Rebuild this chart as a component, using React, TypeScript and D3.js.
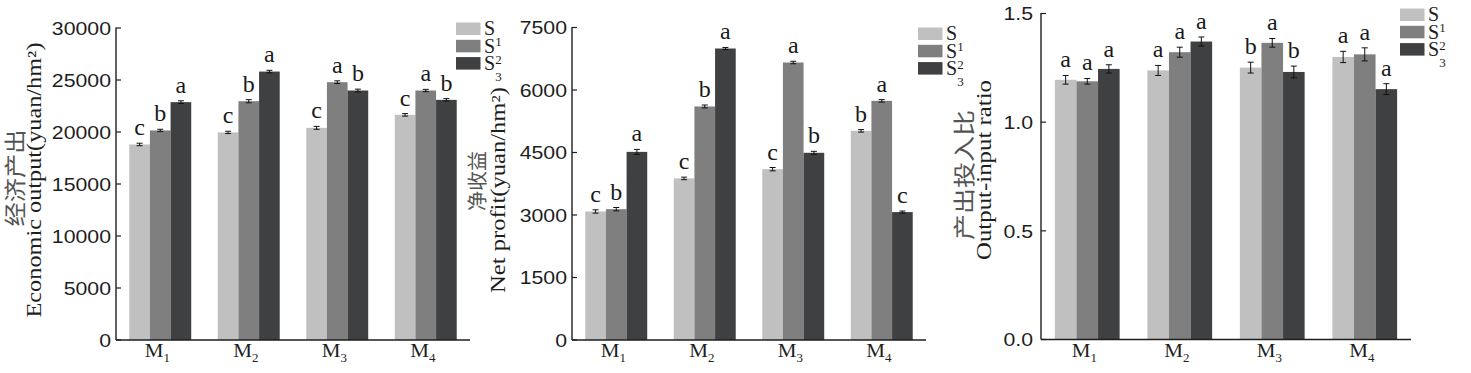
import React from "react";
import * as d3 from "d3";

const categories = ["M1", "M2", "M3", "M4"];
const seriesNames = ["S1", "S2", "S3"];
const seriesColors = ["#c0c0c0", "#7f7f7f", "#3e4041"];

// Panel 1: Economic output
const outputS1 = [18800, 19960, 20400, 21650];
const outputS2 = [20150, 22960, 24790, 23990];
const outputS3 = [22870, 25810, 23990, 23090];
const outputErrS1 = [120, 110, 140, 120];
const outputErrS2 = [110, 150, 130, 110];
const outputErrS3 = [130, 120, 130, 120];
const outputLetters = [["c", "b", "a"], ["c", "b", "a"], ["c", "a", "b"], ["c", "a", "b"]];
const outputTicks = [0, 5000, 10000, 15000, 20000, 25000, 30000];

// Panel 2: Net profit
const profitS1 = [3085, 3878, 4100, 5020];
const profitS2 = [3140, 5605, 6660, 5740];
const profitS3 = [4515, 6996, 4493, 3070];
const profitErrS1 = [40, 30, 40, 30];
const profitErrS2 = [40, 35, 30, 30];
const profitErrS3 = [60, 25, 35, 25];
const profitLetters = [["c", "b", "a"], ["c", "b", "a"], ["c", "a", "b"], ["b", "a", "c"]];
const profitTicks = [0, 1500, 3000, 4500, 6000, 7500];

// Panel 3: Output-input ratio
const ratioS1 = [1.195, 1.238, 1.251, 1.3];
const ratioS2 = [1.188, 1.322, 1.365, 1.312];
const ratioS3 = [1.245, 1.371, 1.231, 1.152];
const ratioErrS1 = [0.02, 0.023, 0.025, 0.026];
const ratioErrS2 = [0.013, 0.023, 0.02, 0.03];
const ratioErrS3 = [0.019, 0.021, 0.027, 0.025];
const ratioLetters = [["a", "a", "a"], ["a", "a", "a"], ["b", "a", "b"], ["a", "a", "a"]];
const ratioTicks = [0, 0.5, 1.0, 1.5];

const SERIF = "'Liberation Serif', 'Times New Roman', serif";
const SANS = "'Liberation Sans', Arial, sans-serif";
const CJK = "'Noto Sans CJK SC', sans-serif";

const panels = [
  {
    x0: 116, x1: 470, yTop: 28, yBot: 340, max: 30000,
    ticks: outputTicks, fmt: (d: number) => String(d),
    values: [outputS1, outputS2, outputS3],
    errs: [outputErrS1, outputErrS2, outputErrS3],
    letters: outputLetters,
    cn: "经济产出", en: "Economic output(yuan/hm²)",
    cnX: 13, cnY: 178, cnSize: 22, cnLen: 97,
    enX: 41, enY: 180, enLen: 275,
    legX: 456, legY: 22.5, tickGap: 5,
  },
  {
    x0: 572, x1: 926, yTop: 27.5, yBot: 340, max: 7500,
    ticks: profitTicks, fmt: (d: number) => String(d),
    values: [profitS1, profitS2, profitS3],
    errs: [profitErrS1, profitErrS2, profitErrS3],
    letters: profitLetters,
    cn: "净收益", en: "Net profit(yuan/hm²)",
    cnX: 476.5, cnY: 181, cnSize: 20, cnLen: 60,
    enX: 505, enY: 190, enLen: 206,
    legX: 918, legY: 27.5, tickGap: 5,
  },
  {
    x0: 1041, x1: 1411, yTop: 13.5, yBot: 339.5, max: 1.5,
    ticks: ratioTicks, fmt: (d: number) => d3.format(".1f")(d),
    values: [ratioS1, ratioS2, ratioS3],
    errs: [ratioErrS1, ratioErrS2, ratioErrS3],
    letters: ratioLetters,
    cn: "产出投入比", en: "Output-input ratio",
    cnX: 962, cnY: 175, cnSize: 22, cnLen: 130,
    enX: 991, enY: 170, enLen: 180,
    legX: 1400, legY: 8.5, tickGap: 8,
  },
];

function SText({ x, y, sx = 1, children, ...rest }: any) {
  return (
    <g transform={`translate(${x},${y}) scale(${sx},1)`}>
      <text {...rest}>{children}</text>
    </g>
  );
}

function Panel({ p }: { p: any }) {
  const x = d3.scaleBand<string>().domain(categories).range([p.x0, p.x1]).paddingInner(0.3).paddingOuter(0.15);
  const xs = d3.scaleBand<string>().domain(seriesNames).range([0, x.bandwidth()]);
  const y = d3.scaleLinear().domain([0, p.max]).range([p.yBot, p.yTop]);
  const axisColor = "#1e1e1e";
  return (
    <g>
      {categories.map((c, ci) =>
        seriesNames.map((s, si) => {
          const v = p.values[si][ci];
          const e = p.errs[si][ci];
          const bx = (x(c) as number) + (xs(s) as number);
          const bw = xs.bandwidth();
          const cx = bx + bw / 2;
          const yHi = y(v + e);
          const yLo = y(v - e);
          return (
            <g key={c + s}>
              <rect x={bx} y={y(v)} width={bw} height={p.yBot - y(v)} fill={seriesColors[si]} />
              <line x1={cx} x2={cx} y1={yHi} y2={yLo} stroke="#111" strokeWidth={1} />
              <line x1={cx - 3} x2={cx + 3} y1={yHi} y2={yHi} stroke="#111" strokeWidth={1} />
              <line x1={cx - 3} x2={cx + 3} y1={yLo} y2={yLo} stroke="#111" strokeWidth={1} />
              <text x={cx} y={yHi - 8} textAnchor="middle" fontFamily={SERIF} fontSize={24} fill="#1a1a1a">
                {p.letters[ci][si]}
              </text>
            </g>
          );
        })
      )}
      <line x1={p.x0} x2={p.x0} y1={p.yTop - 0.5} y2={p.yBot} stroke={axisColor} strokeWidth={1.4} />
      <line x1={p.x0} x2={p.x1} y1={p.yBot} y2={p.yBot} stroke={axisColor} strokeWidth={1.4} />
      {p.ticks.map((t: number) => (
        <g key={t}>
          <line x1={p.x0} x2={p.x0 + 5} y1={y(t)} y2={y(t)} stroke={axisColor} strokeWidth={1.2} />
          <SText x={p.x0 - p.tickGap} y={y(t) + 6.8} sx={1.12} textAnchor="end" fontFamily={SANS} fontSize={19} fill="#1e1e1e">
            {p.fmt(t)}
          </SText>
        </g>
      ))}
      {categories.map((c) => (
        <SText key={c} x={(x(c) as number) + x.bandwidth() / 2 - 3} y={357} sx={1.08} textAnchor="middle" fontFamily={SERIF} fontSize={19.5} fill="#1e1e1e">
          {c.slice(0, 1)}
          <tspan fontSize={12} dy={5}>{c.slice(1)}</tspan>
        </SText>
      ))}
      <text
        transform={`translate(${p.cnX},${p.cnY}) rotate(-90)`}
        textAnchor="middle"
        dominantBaseline="central"
        fontFamily={CJK}
        fontSize={p.cnSize}
        fill="#555"
        textLength={p.cnLen}
        lengthAdjust="spacingAndGlyphs"
      >
        {p.cn}
      </text>
      <text
        transform={`translate(${p.enX},${p.enY}) rotate(-90)`}
        textAnchor="middle"
        fontFamily={SERIF}
        fontSize={20}
        fill="#1e1e1e"
        textLength={p.enLen}
        lengthAdjust="spacingAndGlyphs"
      >
        {p.en}
      </text>
      {seriesNames.map((s, si) => {
        const by = p.legY + si * 17.3;
        return (
          <g key={s}>
            <rect x={p.legX} y={by} width={24.5} height={12.5} fill={seriesColors[si]} />
            <text x={p.legX + 28} y={by + 12.8} fontFamily={SERIF} fontSize={20} fill="#1e1e1e">
              {s.slice(0, 1)}
              <tspan fontSize={13} dy={11}>{s.slice(1)}</tspan>
            </text>
          </g>
        );
      })}
    </g>
  );
}

export default function App() {
  return (
    <svg
      width={1471}
      height={373}
      viewBox="0 0 1471 373"
      style={{ position: "absolute", left: 0, top: 0, background: "#fff" }}
    >
      <rect x={0} y={0} width={1471} height={373} fill="#fff" />
      {panels.map((p, i) => (
        <Panel key={i} p={p} />
      ))}
    </svg>
  );
}
